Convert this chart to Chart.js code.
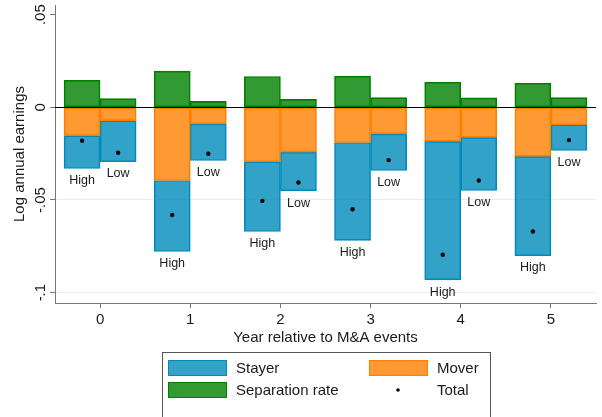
<!DOCTYPE html>
<html>
<head>
<meta charset="utf-8">
<script src="https://cdn.jsdelivr.net/npm/chart.js@4"></script>
<style>
  html, body { margin: 0; padding: 0; background: #fff; }
  #wrap { width: 602px; height: 417px; position: relative; }
</style>
</head>
<body>
<div id="wrap"><canvas id="mychart"></canvas></div>
<script>
// values
var years = [0, 1, 2, 3, 4, 5];
var groups = ["High", "Low"];
var sepHigh    = [0.0146, 0.0195, 0.0166, 0.0168, 0.0135, 0.0130];
var sepLow     = [0.0047, 0.0032, 0.0043, 0.0052, 0.0051, 0.0052];
var moverHigh  = [-0.0153, -0.0395, -0.0294, -0.0190, -0.0184, -0.0265];
var moverLow   = [-0.0072, -0.0090, -0.0242, -0.0143, -0.0162, -0.0094];
var stayerHigh = [-0.0177, -0.0383, -0.0376, -0.0528, -0.0747, -0.0536];
var stayerLow  = [-0.0222, -0.0197, -0.0209, -0.0198, -0.0287, -0.0139];
var totalHigh  = [-0.0180, -0.0581, -0.0505, -0.0550, -0.0796, -0.0670];
var totalLow   = [-0.0245, -0.0251, -0.0406, -0.0285, -0.0395, -0.0177];
var yTicks = [-0.1, -0.05, 0, 0.05];
var yTickLabels = ["-.1", "-.05", "0", ".05"];

var FONT = "'Liberation Sans', Arial, sans-serif";

// High bar sits left of the year, Low bar right of it
function pairs(high, low) {
    var out = [];
    years.forEach(function(yr, i) {
        out.push({x: yr - 0.2, y: high[i]});
        out.push({x: yr + 0.2, y: low[i]});
    });
    return out;
}

var blue = "rgb(0,139,188)", orange = "rgb(255,127,0)", green = "rgb(0,128,0)";

var extras = {
    id: "extras",
    afterDatasetsDraw: function(chart) {
        var ctx = chart.ctx;
        var area = chart.chartArea;
        ctx.save();
        // yline(0)
        var y0 = Math.round(chart.scales.y.getPixelForValue(0)) + 0.5;
        ctx.strokeStyle = "#000";
        ctx.lineWidth = 1;
        ctx.beginPath();
        ctx.moveTo(area.left, y0);
        ctx.lineTo(area.right, y0);
        ctx.stroke();
        // High / Low labels under each bar
        var meta = chart.getDatasetMeta(1);
        ctx.font = "12.5px " + FONT;
        ctx.fillStyle = "#1a1a1a";
        ctx.textAlign = "center";
        ctx.textBaseline = "top";
        meta.data.forEach(function(bar, i) {
            var bottom = Math.max(bar.y, bar.base);
            ctx.fillText(groups[i % 2], bar.x, bottom + 6);
        });
        ctx.restore();
    },
    afterDraw: function(chart) {
        var ctx = chart.ctx;
        ctx.save();
        ctx.strokeStyle = "#555";
        ctx.lineWidth = 1;
        ctx.strokeRect(162.5, 352.5, 328, 70);
        ctx.font = "15px " + FONT;
        ctx.textAlign = "left";
        ctx.textBaseline = "middle";
        function swatch(x, y, c) {
            ctx.fillStyle = c.replace("rgb", "rgba").replace(")", ",0.8)");
            ctx.fillRect(x, y, 59, 16);
            ctx.strokeStyle = c;
            ctx.strokeRect(x + 0.5, y + 0.5, 58, 15);
        }
        swatch(168, 360, blue);
        swatch(369, 360, orange);
        swatch(168, 382, green);
        ctx.fillStyle = "#000";
        ctx.beginPath();
        ctx.arc(398, 390, 1.8, 0, Math.PI * 2);
        ctx.fill();
        ctx.fillStyle = "#1a1a1a";
        ctx.fillText("Stayer", 236, 368.5);
        ctx.fillText("Mover", 437, 368.5);
        ctx.fillText("Separation rate", 236, 390.5);
        ctx.fillText("Total", 437, 390.5);
        ctx.restore();
    }
};

window.addEventListener("load", function() {
    var canvas = document.getElementById("mychart").getContext("2d");
    new Chart(canvas, {
        type: "bar",
        data: {
            datasets: [{
                label: "Mover",
                data: pairs(moverHigh, moverLow),
                backgroundColor: "rgba(255,127,0,0.8)",
                borderColor: orange
            }, {
                label: "Stayer",
                data: pairs(stayerHigh, stayerLow),
                backgroundColor: "rgba(0,139,188,0.8)",
                borderColor: blue
            }, {
                label: "Separation rate",
                data: pairs(sepHigh, sepLow),
                backgroundColor: "rgba(0,128,0,0.8)",
                borderColor: green
            }, {
                type: "scatter",
                label: "Total",
                data: pairs(totalHigh, totalLow),
                stack: "total",
                order: -1,
                pointRadius: 2.2,
                pointBackgroundColor: "#000",
                pointBorderWidth: 0
            }]
        },
        options: {
            responsive: true,
            maintainAspectRatio: false,
            animation: false,
            datasets: {
                bar: {
                    borderWidth: 1,
                    borderSkipped: false,
                    barPercentage: 1,
                    categoryPercentage: 1
                }
            },
            layout: { padding: { top: 5, right: 6, bottom: 70, left: 0 } },
            plugins: {
                legend: { display: false },
                tooltip: { enabled: false }
            },
            scales: {
                x: {
                    type: "linear",
                    stacked: true,
                    min: -0.5,
                    max: 5.5,
                    offset: false,
                    afterBuildTicks: function(s) {
                        s.ticks = years.map(function(v) { return {value: v}; });
                    },
                    afterFit: function(s) {
                        s.height = 44;
                        s.paddingLeft = 0;
                        s.paddingRight = 0;
                    },
                    grid: { drawOnChartArea: false, offset: false, color: "#777", tickLength: 5 },
                    border: { color: "#777", width: 1 },
                    ticks: { color: "#1a1a1a", padding: 3, font: { size: 15, family: FONT } },
                    title: {
                        display: true,
                        text: "Year relative to M&A events",
                        color: "#1a1a1a",
                        padding: { top: 0, bottom: 0 },
                        font: { size: 15, family: FONT }
                    }
                },
                y: {
                    stacked: true,
                    min: -0.1056,
                    max: 0.0552,
                    afterBuildTicks: function(s) {
                        s.ticks = yTicks.map(function(v) { return {value: v}; });
                    },
                    afterFit: function(s) {
                        s.width = 55;
                        s.paddingTop = 0;
                        s.paddingBottom = 0;
                    },
                    grid: {
                        tickLength: 5,
                        tickColor: "#777",
                        color: function(c) {
                            return c.tick && c.tick.value < -0.01 ? "#e4edef" : "rgba(0,0,0,0)";
                        }
                    },
                    border: { color: "#777", width: 1 },
                    ticks: {
                        color: "#1a1a1a",
                        padding: -3.5,
                        minRotation: 90,
                        maxRotation: 90,
                        crossAlign: "center",
                        font: { size: 15, family: FONT },
                        callback: function(v, i) { return yTickLabels[i]; }
                    },
                    title: {
                        display: true,
                        text: "Log annual earnings",
                        color: "#1a1a1a",
                        padding: { top: 11, bottom: 0 },
                        font: { size: 15, family: FONT }
                    }
                }
            }
        },
        plugins: [extras]
    });
});
</script>
</body>
</html>
